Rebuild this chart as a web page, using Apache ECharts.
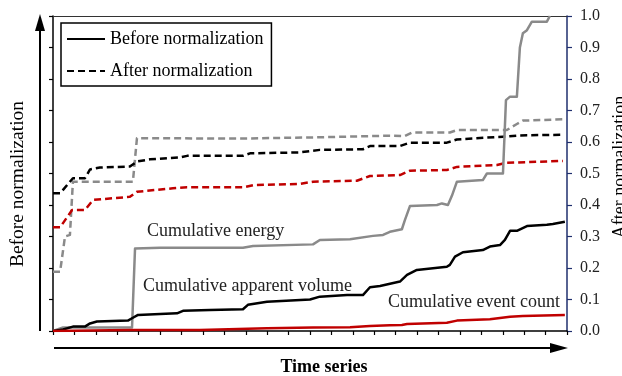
<!DOCTYPE html>
<html>
<head>
<meta charset="utf-8">
<script src="https://cdn.jsdelivr.net/npm/echarts@6/dist/echarts.min.js"></script>
<style>
html,body{margin:0;padding:0;background:#fff;}
#chart{width:622px;height:376px;}
</style>
</head>
<body>
<div id="chart"></div>
<script>
// Time index (0..240) and normalized values (0..1)
const energyBefore = [[0,0],[4.7,0.011],[36.9,0.011],[38.3,0.262],[50,0.264],[88.7,0.264],[93.4,0.27],[121.4,0.275],[124.6,0.289],[138.7,0.291],[149.4,0.302],[154.1,0.305],[157.3,0.315],[162.9,0.323],[164.3,0.352],[166.7,0.397],[179.3,0.40],[181.6,0.405],[184.4,0.40],[186.3,0.43],[188.6,0.474],[200.7,0.479],[202.6,0.50],[210.1,0.50],[211.5,0.733],[213.4,0.744],[216.6,0.744],[218.0,0.90],[219.4,0.945],[221.3,0.955],[223.6,0.982],[230.6,0.982],[232.0,1.0]];
const volumeBefore = [[0,0],[4.7,0.005],[9.3,0.014],[14.9,0.014],[17.3,0.024],[20.5,0.03],[35.0,0.033],[37.3,0.042],[39.7,0.051],[50,0.054],[57.9,0.056],[60.7,0.064],[73.3,0.067],[88.7,0.069],[91.0,0.083],[99.9,0.093],[120.0,0.10],[124.6,0.109],[137.3,0.114],[144.7,0.114],[148.0,0.139],[152.7,0.143],[162.0,0.157],[165.3,0.178],[169.9,0.194],[183.9,0.204],[185.3,0.21],[187.7,0.236],[191.4,0.25],[200.7,0.257],[204.0,0.268],[208.7,0.273],[211.0,0.289],[213.4,0.318],[216.6,0.318],[221.3,0.333],[230.6,0.337],[233.4,0.34],[239.0,0.347]];
const countBefore = [[0,0],[36,0.003],[68.6,0.003],[99.9,0.009],[121.4,0.011],[138.7,0.012],[148,0.016],[157.3,0.018],[162.9,0.019],[165.3,0.022],[183.9,0.026],[188.6,0.033],[204,0.037],[213.4,0.045],[219.4,0.048],[239,0.051]];
const energyAfter = [[0,0.188],[3.3,0.188],[5.6,0.30],[7.9,0.305],[9.3,0.474],[35.9,0.474],[37.3,0.474],[39.2,0.612],[88.7,0.611],[124.6,0.615],[157.3,0.62],[164.3,0.619],[167.6,0.63],[185.3,0.63],[188.6,0.638],[211.9,0.638],[216.6,0.657],[219.4,0.668],[238.1,0.672]];
const volumeAfter = [[0,0.437],[3.3,0.437],[9.3,0.485],[14.9,0.485],[17.3,0.513],[21.9,0.519],[35.9,0.522],[39.2,0.538],[45.3,0.545],[59.3,0.551],[62.6,0.556],[88.7,0.556],[92.0,0.564],[115.3,0.567],[124.6,0.575],[144.7,0.577],[148.0,0.587],[162.0,0.587],[166.7,0.598],[183.9,0.598],[188.6,0.608],[210.1,0.617],[218.0,0.621],[238.1,0.623]];
const countAfter = [[0,0.329],[3.3,0.329],[8.9,0.384],[14.9,0.384],[18.7,0.416],[35.9,0.426],[39.2,0.442],[56.0,0.453],[62.6,0.456],[88.7,0.456],[93.4,0.463],[115.3,0.467],[121.4,0.474],[141.9,0.477],[148.0,0.492],[162.0,0.495],[166.7,0.509],[183.9,0.511],[188.6,0.521],[207.3,0.527],[211.9,0.534],[238.1,0.54]];
const legendNames = ['Before normalization', 'After normalization'];
const curveLabels = ['Cumulative energy', 'Cumulative apparent volume', 'Cumulative event count'];
const xTitle = 'Time series';
const leftTitle = 'Before normalization';
const rightTitle = 'After normalization';

const FONT = '"Liberation Serif", "Times New Roman", serif';
const GREY = '#8a8a8a', BLACK = '#000000', RED = '#c00000', NAVY = '#1f2f6e';
const DASH = [7, 4];

function lineSeries(name, data, color, dashed) {
  return {
    name: name, type: 'line', data: data, xAxisIndex: 0, yAxisIndex: 0,
    symbol: 'none', smooth: false, silent: true, z: dashed ? 3 : 4,
    itemStyle: { color: color },
    lineStyle: { color: color, width: 2.5, type: dashed ? DASH : 'solid', cap: 'butt', join: 'round' }
  };
}

const chart = echarts.init(document.getElementById('chart'), null, { renderer: 'canvas' });
chart.setOption({
  animation: false,
  backgroundColor: '#fff',
  grid: { left: 53, top: 16, width: 514, height: 315, containLabel: false },
  legend: {
    data: legendNames,
    orient: 'vertical', left: 61, top: 23,
    padding: [7, 8, 6, 5], itemGap: 14, itemWidth: 38, itemHeight: 14,
    borderColor: '#000', borderWidth: 1.5, backgroundColor: '#fff',
    itemStyle: { opacity: 0 },
    textStyle: { fontFamily: FONT, fontSize: 18, color: '#000' },
    selectedMode: false
  },
  xAxis: [
    { type: 'value', min: 0, max: 240, interval: 10, position: 'bottom',
      axisLine: { show: true, onZero: false, lineStyle: { color: '#000', width: 1.5 } },
      axisTick: { show: true, length: 4, lineStyle: { color: '#000', width: 1.2 } },
      axisLabel: { show: false }, splitLine: { show: false } },
    { type: 'value', min: 0, max: 240, position: 'top',
      axisLine: { show: true, onZero: false, lineStyle: { color: '#333', width: 1 } },
      axisTick: { show: false }, axisLabel: { show: false }, splitLine: { show: false } }
  ],
  yAxis: [
    { type: 'value', min: 0, max: 1, interval: 0.1, position: 'left',
      axisLine: { show: true, onZero: false, lineStyle: { color: '#000', width: 1.5 } },
      axisTick: { show: true, length: 4, lineStyle: { color: '#000', width: 1.2 } },
      axisLabel: { show: false }, splitLine: { show: false } },
    { type: 'value', min: 0, max: 1, interval: 0.1, position: 'right',
      axisLine: { show: true, onZero: false, lineStyle: { color: NAVY, width: 1.5 } },
      axisTick: { show: true, length: 5, lineStyle: { color: NAVY, width: 1.2 } },
      axisLabel: { show: true, margin: 13, fontFamily: FONT, fontSize: 16, color: '#222',
                   formatter: v => v.toFixed(1) },
      splitLine: { show: false } }
  ],
  series: [
    lineSeries(legendNames[0], [], BLACK, false),
    lineSeries(legendNames[1], [], BLACK, true),
    lineSeries('Energy (after)', energyAfter, GREY, true),
    lineSeries('Volume (after)', volumeAfter, BLACK, true),
    lineSeries('Count (after)', countAfter, RED, true),
    lineSeries('Energy (before)', energyBefore, GREY, false),
    lineSeries('Volume (before)', volumeBefore, BLACK, false),
    lineSeries('Count (before)', countBefore, RED, false)
  ],
  graphic: [
    { type: 'text', left: 147, top: 222, style: { text: curveLabels[0], font: '18px ' + FONT, fill: '#222' }, z: 10 },
    { type: 'text', left: 143, top: 277, style: { text: curveLabels[1], font: '18px ' + FONT, fill: '#222' }, z: 10 },
    { type: 'text', left: 388, top: 293, style: { text: curveLabels[2], font: '18px ' + FONT, fill: '#222' }, z: 10 },
    { type: 'text', x: 324, y: 367, style: { text: xTitle, font: 'bold 18px ' + FONT, fill: '#000', textAlign: 'center', textVerticalAlign: 'middle' } },
    { type: 'text', x: 18, y: 184, rotation: Math.PI / 2, style: { text: leftTitle, font: '19.5px ' + FONT, fill: '#000', textAlign: 'center', textVerticalAlign: 'middle' } },
    { type: 'text', x: 620, y: 167, rotation: Math.PI / 2, style: { text: rightTitle, font: '18px ' + FONT, fill: '#000', textAlign: 'center', textVerticalAlign: 'middle' } },
    // left vertical arrow
    { type: 'line', shape: { x1: 40, y1: 331, x2: 40, y2: 28 }, style: { stroke: '#000', lineWidth: 2 } },
    { type: 'polygon', shape: { points: [[40, 14], [35, 31], [45, 31]] }, style: { fill: '#000' } },
    // bottom horizontal arrow
    { type: 'line', shape: { x1: 54, y1: 348, x2: 553, y2: 348 }, style: { stroke: '#000', lineWidth: 2 } },
    { type: 'polygon', shape: { points: [[568, 348], [550, 343], [550, 353]] }, style: { fill: '#000' } }
  ]
});
</script>
</body>
</html>
